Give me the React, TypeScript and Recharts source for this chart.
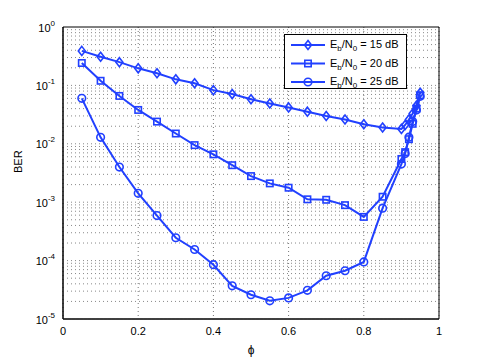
import { LineChart, Line, XAxis, YAxis, CartesianGrid, ReferenceArea, ReferenceLine } from 'recharts';

const phi = [0.05, 0.1, 0.15, 0.2, 0.25, 0.3, 0.35, 0.4, 0.45, 0.5, 0.55, 0.6, 0.65, 0.7, 0.75, 0.8, 0.85, 0.9, 0.91, 0.92, 0.93, 0.94, 0.95];
const ber15 = [0.39, 0.31, 0.25, 0.196, 0.161, 0.127, 0.109, 0.083, 0.071, 0.058, 0.049, 0.042, 0.0355, 0.03, 0.026, 0.0216, 0.019, 0.018, 0.021, 0.026, 0.033, 0.045, 0.075];
const ber20 = [0.242, 0.12, 0.066, 0.038, 0.024, 0.015, 0.0095, 0.0066, 0.0043, 0.0028, 0.0021, 0.00177, 0.00112, 0.0011, 0.00089, 0.00056, 0.00124, 0.0055, 0.0072, 0.012, 0.022, 0.04, 0.068];
const ber25 = [0.06, 0.0129, 0.004, 0.00142, 0.00059, 0.000246, 0.000155, 0.000085, 0.000037, 0.000026, 0.0000205, 0.000023, 0.000031, 0.000055, 0.000067, 0.000095, 0.00079, 0.0045, 0.0068, 0.013, 0.024, 0.038, 0.065];

const xTicks = [0, 0.2, 0.4, 0.6, 0.8, 1];
const yTicks = [1e-5, 1e-4, 1e-3, 1e-2, 1e-1, 1];
const snrLabels = ['15', '20', '25'];

const data = phi.map((p, i) => ({ phi: p, s15: ber15[i], s20: ber20[i], s25: ber25[i] }));

// log grid: 2..9 x 10^k for every decade, plus the decades
const yGrid: number[] = [];
for (let k = -5; k < 0; k++) for (let m = 1; m <= 9; m++) yGrid.push(m * Math.pow(10, k));

const BLUE = '#2140ff';
const FONT = '"Liberation Sans", Arial, sans-serif';

function Marker({ kind, cx, cy }: { kind: string; cx: number; cy: number }) {
  if (kind === 'diamond')
    return <polygon points={`${cx},${cy - 4.5} ${cx + 3.5},${cy} ${cx},${cy + 4.5} ${cx - 3.5},${cy}`} fill="none" stroke={BLUE} strokeWidth={1.6} />;
  if (kind === 'square')
    return <rect x={cx - 3.2} y={cy - 3.2} width={6.4} height={6.4} fill="none" stroke={BLUE} strokeWidth={1.6} />;
  return <circle cx={cx} cy={cy} r={3.8} fill="none" stroke={BLUE} strokeWidth={1.6} />;
}

const dotFor = (kind: string) => (props: any) => {
  const { cx, cy, key } = props;
  if (cx == null || cy == null) return <g key={key} />;
  return <Marker key={key} kind={kind} cx={cx} cy={cy} />;
};

function YTick({ x, y, payload }: any) {
  const e = Math.round(Math.log10(payload.value));
  return (
    <text x={x} y={y + 4.5} textAnchor="end" fontSize={11} fontFamily={FONT} fill="#000">
      <tspan>10</tspan>
      <tspan dy={-6} fontSize={8}>{String(e)}</tspan>
    </text>
  );
}

function LegendBox() {
  const kinds = ['diamond', 'square', 'circle'];
  return (
    <div style={{ position: 'absolute', left: 284, top: 34, border: '1px solid #000', background: '#fff', width: 123, height: 55, boxSizing: 'border-box' }}>
      <svg width={121} height={53} style={{ display: 'block', overflow: 'visible' }}>
        {kinds.map((k, i) => {
          const y = 10 + i * 18.5;
          return (
            <g key={k}>
              <line x1={6} x2={40} y1={y} y2={y} stroke={BLUE} strokeWidth={2} />
              <Marker kind={k} cx={23} cy={y} />
              <text x={45} y={y + 3} fontSize={11} fontFamily={FONT} fill="#000">
                E<tspan dy={3} fontSize={8}>b</tspan>
                <tspan dy={-3}>/N</tspan>
                <tspan dy={3} fontSize={8}>0</tspan>
                <tspan dy={-3}>{` = ${snrLabels[i]} dB`}</tspan>
              </text>
            </g>
          );
        })}
      </svg>
    </div>
  );
}

export default function App() {
  return (
    <div style={{ position: 'absolute', left: 0, top: 0, width: 485, height: 360, background: '#fff' }}>
      <LineChart width={485} height={360} data={data} margin={{ top: 27, right: 46, bottom: 0, left: 0 }}>
        <CartesianGrid stroke="#777" strokeDasharray="1 3" horizontal={false} verticalValues={xTicks} />
        {yGrid.map((v) => (
          <ReferenceLine key={v} y={v} stroke="#888" strokeDasharray="1 3" />
        ))}
        <XAxis
          dataKey="phi"
          type="number"
          domain={[0, 1]}
          ticks={xTicks}
          height={41}
          tickLine={false}
          axisLine={{ stroke: '#000' }}
          tick={{ fontSize: 11, fontFamily: FONT, fill: '#000' }}
          tickFormatter={(v: number) => String(v)}
          label={{ value: 'ϕ', position: 'insideBottom', offset: 6, fontSize: 12, fontFamily: FONT, fill: '#000' }}
        />
        <YAxis
          scale="log"
          type="number"
          domain={[1e-5, 1]}
          ticks={yTicks}
          allowDataOverflow
          width={63}
          tickLine={false}
          axisLine={{ stroke: '#000' }}
          tick={<YTick />}
          label={{ value: 'BER', angle: -90, position: 'insideLeft', offset: 18, fontSize: 11, fontFamily: FONT, fill: '#000' }}
        />
        <ReferenceArea x1={0} x2={1} y1={1e-5} y2={1} fill="none" stroke="#000" strokeWidth={1} ifOverflow="visible" />
        <Line dataKey="s15" stroke={BLUE} strokeWidth={2} dot={dotFor('diamond')} isAnimationActive={false} />
        <Line dataKey="s20" stroke={BLUE} strokeWidth={2} dot={dotFor('square')} isAnimationActive={false} />
        <Line dataKey="s25" stroke={BLUE} strokeWidth={2} dot={dotFor('circle')} isAnimationActive={false} />
      </LineChart>
      <LegendBox />
    </div>
  );
}
